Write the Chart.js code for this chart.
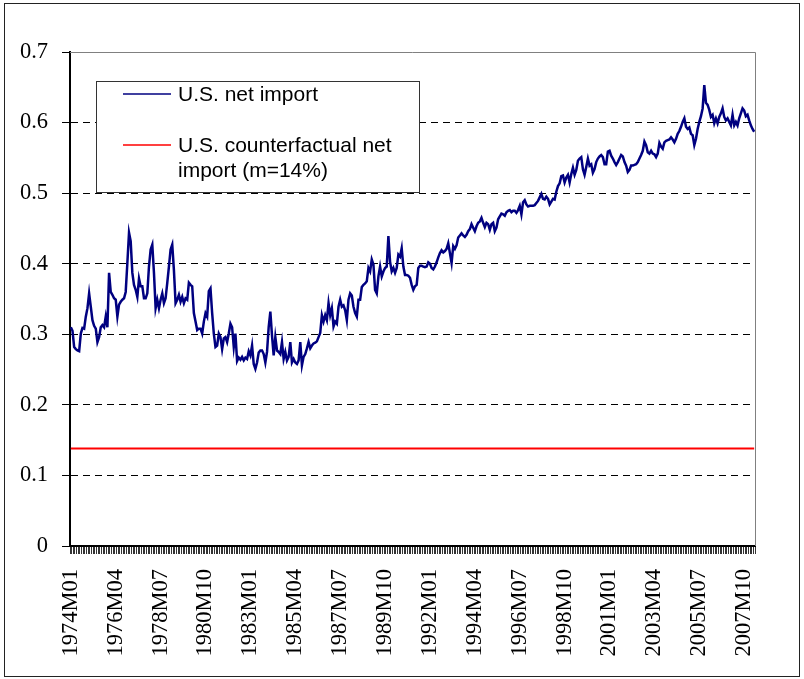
<!DOCTYPE html>
<html>
<head>
<meta charset="utf-8">
<script src="https://cdn.jsdelivr.net/npm/chart.js@4.4.1/dist/chart.umd.min.js"></script>
<style>
  html, body { margin: 0; padding: 0; background: #fff; }
  #wrap { width: 804px; height: 679px; }
</style>
</head>
<body>
<div id="wrap"><canvas id="chart" width="804" height="679"></canvas></div>
<script>
// monthly series, starting 1974M01 (one row per year)
const startYear = 1974;
const netImport = [
  0.310, 0.305, 0.282, 0.279, 0.277, 0.276, 0.301, 0.309, 0.308, 0.325, 0.337, 0.358, // 1974
  0.339, 0.320, 0.312, 0.308, 0.289, 0.296, 0.310, 0.313, 0.310, 0.325, 0.310, 0.387, // 1975
  0.360, 0.356, 0.351, 0.349, 0.325, 0.342, 0.346, 0.349, 0.351, 0.360, 0.401, 0.444, // 1976
  0.432, 0.387, 0.370, 0.363, 0.353, 0.379, 0.368, 0.368, 0.351, 0.351, 0.358, 0.396, // 1977
  0.420, 0.427, 0.387, 0.337, 0.349, 0.337, 0.349, 0.358, 0.344, 0.351, 0.373, 0.396, // 1978
  0.420, 0.427, 0.391, 0.344, 0.349, 0.356, 0.346, 0.353, 0.344, 0.351, 0.349, 0.373, // 1979
  0.370, 0.368, 0.330, 0.318, 0.306, 0.308, 0.308, 0.301, 0.318, 0.330, 0.325, 0.361, // 1980
  0.365, 0.330, 0.301, 0.282, 0.284, 0.301, 0.296, 0.279, 0.294, 0.296, 0.289, 0.301, // 1981
  0.315, 0.310, 0.282, 0.301, 0.262, 0.267, 0.264, 0.268, 0.263, 0.267, 0.265, 0.276, // 1982
  0.270, 0.284, 0.258, 0.251, 0.260, 0.274, 0.277, 0.277, 0.272, 0.260, 0.275, 0.310, // 1983
  0.332, 0.298, 0.270, 0.296, 0.277, 0.275, 0.272, 0.289, 0.265, 0.275, 0.263, 0.268, // 1984
  0.289, 0.260, 0.265, 0.260, 0.258, 0.263, 0.289, 0.256, 0.268, 0.272, 0.280, 0.289, // 1985
  0.280, 0.284, 0.287, 0.288, 0.290, 0.296, 0.302, 0.327, 0.318, 0.327, 0.320, 0.344, // 1986
  0.327, 0.337, 0.311, 0.318, 0.315, 0.339, 0.349, 0.339, 0.341, 0.334, 0.320, 0.349, // 1987
  0.358, 0.355, 0.339, 0.330, 0.325, 0.349, 0.349, 0.367, 0.370, 0.372, 0.375, 0.394, // 1988
  0.389, 0.406, 0.399, 0.363, 0.358, 0.382, 0.396, 0.382, 0.389, 0.394, 0.396, 0.439, // 1989
  0.403, 0.389, 0.394, 0.387, 0.394, 0.413, 0.410, 0.422, 0.396, 0.384, 0.384, 0.383, // 1990
  0.380, 0.370, 0.363, 0.368, 0.370, 0.394, 0.397, 0.397, 0.396, 0.395, 0.396, 0.402, // 1991
  0.400, 0.394, 0.392, 0.396, 0.402, 0.409, 0.415, 0.419, 0.416, 0.418, 0.421, 0.429, // 1992
  0.415, 0.401, 0.425, 0.421, 0.426, 0.437, 0.440, 0.443, 0.440, 0.438, 0.441, 0.446, // 1993
  0.449, 0.456, 0.451, 0.446, 0.453, 0.458, 0.460, 0.465, 0.458, 0.452, 0.458, 0.456, // 1994
  0.448, 0.456, 0.458, 0.446, 0.451, 0.463, 0.467, 0.471, 0.470, 0.468, 0.473, 0.475, // 1995
  0.476, 0.473, 0.475, 0.475, 0.472, 0.476, 0.482, 0.470, 0.487, 0.490, 0.484, 0.481, // 1996
  0.482, 0.482, 0.482, 0.483, 0.486, 0.489, 0.494, 0.499, 0.492, 0.491, 0.495, 0.492, // 1997
  0.484, 0.488, 0.492, 0.491, 0.502, 0.510, 0.514, 0.524, 0.525, 0.515, 0.522, 0.526, // 1998
  0.515, 0.527, 0.536, 0.526, 0.533, 0.546, 0.549, 0.551, 0.534, 0.526, 0.537, 0.549, // 1999
  0.539, 0.541, 0.529, 0.534, 0.544, 0.549, 0.552, 0.554, 0.551, 0.541, 0.541, 0.559, // 2000
  0.560, 0.553, 0.549, 0.544, 0.540, 0.544, 0.549, 0.554, 0.552, 0.544, 0.539, 0.530, // 2001
  0.533, 0.539, 0.539, 0.540, 0.541, 0.544, 0.549, 0.554, 0.560, 0.573, 0.568, 0.558, // 2002
  0.556, 0.560, 0.556, 0.555, 0.551, 0.556, 0.571, 0.566, 0.563, 0.572, 0.574, 0.575, // 2003
  0.576, 0.579, 0.576, 0.572, 0.577, 0.584, 0.588, 0.594, 0.601, 0.606, 0.594, 0.591, // 2004
  0.593, 0.584, 0.582, 0.568, 0.577, 0.591, 0.601, 0.609, 0.620, 0.653, 0.628, 0.625, // 2005
  0.618, 0.608, 0.611, 0.599, 0.606, 0.599, 0.608, 0.613, 0.620, 0.608, 0.603, 0.606, // 2006
  0.601, 0.596, 0.611, 0.596, 0.601, 0.596, 0.606, 0.613, 0.620, 0.617, 0.609, 0.611, // 2007
  0.603, 0.596, 0.591, 0.587                                                          // 2008
];
const counterfactualLevel = 0.138; // flat line, m = 14%

const shownTicks = [
  "1974M01", "1976M04", "1978M07", "1980M10", "1983M01", "1985M04", "1987M07", "1989M10",
  "1992M01", "1994M04", "1996M07", "1998M10", "2001M01", "2003M04", "2005M07", "2007M10"
];

const seriesLabels = ["U.S. net import", "U.S. counterfactual net import (m=14%)"];
const seriesColors = ["#000080", "#ff0000"];

// month labels like 1974M01
const months = netImport.map((v, i) => {
  const m = (i % 12) + 1;
  return (startYear + Math.floor(i / 12)) + "M" + (m < 10 ? "0" + m : m);
});
const counterfactual = months.map(() => counterfactualLevel);

// white background, grey plot border, outer frame and the boxed legend
const framePlugin = {
  id: "frame",
  beforeDraw(chart) {
    const ctx = chart.ctx;
    ctx.save();
    ctx.fillStyle = "#fff";
    ctx.fillRect(0, 0, chart.width, chart.height);
    ctx.restore();
  },
  afterDraw(chart) {
    const ctx = chart.ctx;
    const a = chart.chartArea;
    ctx.save();
    ctx.strokeStyle = "#808080";
    ctx.lineWidth = 1;
    ctx.beginPath();
    ctx.moveTo(a.left, a.top + 0.5);
    ctx.lineTo(a.right + 0.5, a.top + 0.5);
    ctx.lineTo(a.right + 0.5, a.bottom);
    ctx.stroke();

    ctx.strokeStyle = "#222";
    ctx.strokeRect(4.5, 3.5, 795, 673);

    // legend box
    ctx.fillStyle = "#fff";
    ctx.fillRect(96.5, 81.5, 323, 111);
    ctx.strokeStyle = "#333";
    ctx.strokeRect(96.5, 81.5, 323, 111);

    ctx.font = "21px 'Liberation Sans', Arial, sans-serif";
    ctx.fillStyle = "#000";
    ctx.textBaseline = "alphabetic";
    const rows = [
      { y: 94, lines: ["U.S. net import"] },
      { y: 145, lines: ["U.S. counterfactual net", "import (m=14%)"] }
    ];
    rows.forEach((row, k) => {
      ctx.strokeStyle = seriesColors[k];
      ctx.lineWidth = 1.5;
      ctx.beginPath();
      ctx.moveTo(123, row.y);
      ctx.lineTo(171, row.y);
      ctx.stroke();
      row.lines.forEach((t, j) => ctx.fillText(t, 178, row.y + 7 + j * 25));
    });
    ctx.restore();
  }
};

const tickFont = { family: "'Liberation Serif', 'Times New Roman', serif", size: 22.5 };

new Chart(document.getElementById("chart"), {
  type: "line",
  data: {
    labels: months,
    datasets: [
      {
        label: seriesLabels[0],
        data: netImport,
        borderColor: seriesColors[0],
        borderWidth: 2.5,
        pointRadius: 0,
        fill: false,
        tension: 0
      },
      {
        label: seriesLabels[1],
        data: counterfactual,
        borderColor: seriesColors[1],
        borderWidth: 2,
        pointRadius: 0,
        fill: false
      }
    ]
  },
  options: {
    responsive: false,
    devicePixelRatio: 1,
    animation: false,
    layout: { padding: { top: 52, right: 49, bottom: 0, left: 0 } },
    plugins: {
      legend: { display: false },
      tooltip: { enabled: false }
    },
    scales: {
      x: {
        type: "category",
        offset: true,
        grid: {
          offset: true,
          drawOnChartArea: false,
          drawTicks: true,
          tickLength: 8,
          tickColor: "#333",
          tickWidth: 1
        },
        border: { display: true, color: "#000", width: 2 },
        ticks: {
          autoSkip: false,
          minRotation: 90,
          maxRotation: 90,
          padding: 15,
          color: "#000",
          font: tickFont,
          callback: function (value) {
            const lab = this.getLabelForValue(value);
            return shownTicks.includes(lab) ? lab : "";
          }
        },
        afterFit(scale) { scale.height = 133; }
      },
      y: {
        min: 0,
        max: 0.7,
        grid: {
          color: (c) => (c.tick && c.tick.value > 0.05 && c.tick.value < 0.65) ? "#000" : "rgba(0,0,0,0)",
          lineWidth: 1,
          tickColor: "#000",
          tickLength: 8
        },
        border: { display: true, color: "#000", width: 2, dash: [7, 5] },
        ticks: {
          stepSize: 0.1,
          padding: 14,
          color: "#000",
          font: tickFont,
          callback: (v) => (v === 0 ? "0" : v.toFixed(1))
        },
        afterFit(scale) { scale.width = 70; }
      }
    }
  },
  plugins: [framePlugin]
});
</script>
</body>
</html>
